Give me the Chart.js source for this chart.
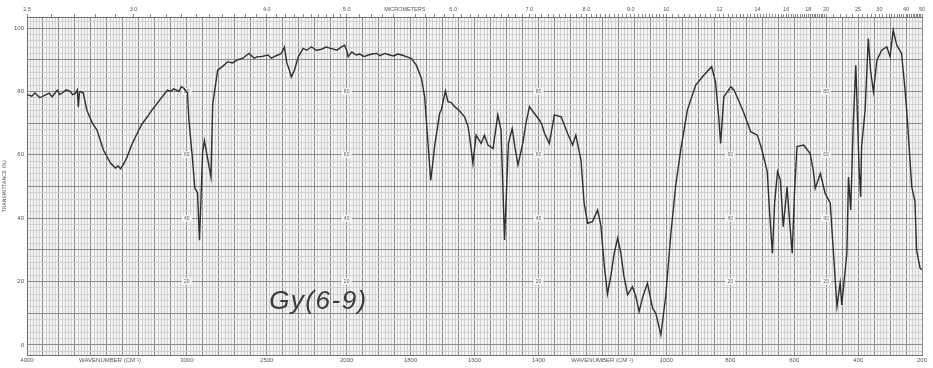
<!DOCTYPE html>
<html>
<head>
<meta charset="utf-8">
<script src="https://cdn.jsdelivr.net/npm/chart.js@4/dist/chart.umd.min.js"></script>
<style>
  html, body { margin: 0; padding: 0; background: #ffffff; }
  #wrap { width: 933px; height: 368px; }
</style>
</head>
<body>
<div id="wrap"><canvas id="ir" width="933" height="368"></canvas></div>
<script>
// IR spectrum of sample Gy(6-9): wavenumber (cm-1) vs transmittance (%)
const wavenumbers = [
  4000, 3970, 3950, 3920, 3887, 3860, 3843, 3825, 3811, 3795, 3780, 3755, 3730, 3715, 3698, 3685,
  3679, 3672, 3667, 3648, 3625, 3591, 3562, 3522, 3478, 3447, 3430, 3415, 3396, 3373, 3346, 3310,
  3283, 3247, 3220, 3184, 3151, 3121, 3100, 3082, 3050, 3035, 3019, 2996, 2987, 2964, 2950, 2933,
  2921, 2912, 2901, 2890, 2874, 2849, 2838, 2807, 2774, 2744, 2715, 2681, 2648, 2625, 2610, 2579,
  2555, 2535, 2493, 2470, 2453, 2430, 2409, 2390, 2374, 2358, 2346, 2327, 2302, 2272, 2250, 2220,
  2190, 2157, 2130, 2094, 2060, 2035, 2013, 2000,
  1995, 1984, 1970, 1959, 1945, 1932, 1920, 1906, 1895, 1881, 1865, 1853, 1840, 1828, 1813, 1797,
  1782, 1766, 1756, 1747, 1737, 1732, 1725, 1709, 1704, 1691, 1683, 1673, 1662, 1648, 1631, 1620,
  1613, 1605, 1595, 1579, 1569, 1558, 1542, 1527, 1517, 1506, 1494, 1482, 1473, 1464, 1449, 1439,
  1428, 1413, 1397, 1389, 1381, 1366, 1350, 1329, 1309, 1293, 1283, 1267, 1257, 1246, 1231, 1215,
  1205, 1194, 1184, 1173, 1163, 1152, 1142, 1133, 1121, 1106, 1095, 1085, 1074, 1059, 1043, 1033,
  1017, 1002, 986, 971, 955, 934, 908, 882, 858, 846, 836, 830, 820, 798, 788, 773,
  757, 736, 715, 702, 684, 677, 668, 661, 652, 643, 634, 622, 615, 606, 599, 591,
  570, 550, 540, 534, 518, 503, 487, 477, 466, 456, 451, 435, 430, 423, 415, 407,
  397, 392, 389, 378, 368, 361, 352, 341, 326, 310, 300, 290, 279, 264, 254, 248,
  232, 222, 217, 206, 201
];
const transmittance = [
  79, 78.5, 79.5, 78, 78.8, 79.5, 78.3, 79.5, 80.4, 79, 79.5, 80.5, 80, 79, 79.4, 80.5,
  75, 79.5, 80, 79.5, 74, 70, 67.8, 61.5, 57.4, 55.8, 56.5, 55.6, 57, 59.4, 63, 66.9,
  69.5, 72, 74, 76.3, 78.5, 80.4, 80, 80.8, 80, 81.5, 81, 79.5, 71, 58.4, 49.5, 48,
  33, 45, 61, 64.5, 60, 53, 76, 86.7, 88, 89.4, 89, 90, 90.5, 91.5, 92, 90.5,
  91, 91, 91.5, 90.5, 91, 91.5, 92, 94, 89, 86.7, 84.6, 86.7, 91, 93.6, 93, 94.1,
  93, 93.3, 94, 93.5, 93, 94, 94.6, 93,
  91, 92.5, 91.5, 91.8, 91, 91.5, 91.8, 92, 91.3, 92, 91.5, 91.2, 91.8, 91.5, 91, 90.4,
  88.3, 84.1, 78.3, 65.7, 52, 56, 62.6, 73.1, 74.1, 80.2, 76.8, 76.5, 75.2, 74, 72, 68.9,
  64, 57.3, 66.2, 63.6, 66.2, 63.1, 62, 72.6, 67.8, 33.1, 63.6, 68.3, 62, 56.8, 63.6, 70,
  75.2, 73.1, 71, 69.5, 66.8, 63.6, 72.6, 72, 66.8, 63.1, 66.2, 58.4, 44.7, 38.4, 38.9, 42.6,
  38, 25, 16, 22, 28.9, 33.7, 28.9, 22, 15.8, 18.4, 15.2, 10.5, 15, 19.5, 11.6, 10,
  3.2, 15.2, 34.7, 49.9, 61.5, 74.1, 82, 85.2, 87.8, 83, 72, 63.6, 78.3, 81.5, 80.4, 77,
  73.1, 67.3, 66.2, 62, 54.7, 42, 28.9, 45, 54.7, 52, 37.3, 49.9, 40, 28.9, 48, 62.6,
  63.1, 60.4, 55, 49.4, 54.1, 47.8, 44.7, 28.9, 12.1, 19.5, 12.6, 28.9, 53, 42.6, 70, 88.3,
  56.2, 46.8, 62.6, 74.1, 96.7, 86.7, 79.9, 89.9, 93, 94.1, 91, 99.4, 94.6, 92, 81.5, 74.1,
  49.9, 45.2, 30, 24.2, 23.7
];

// axis labelling
const transmittanceLabels = [0, 20, 40, 60, 80, 100];
const wavenumberLabels = [4000, 3000, 2500, 2000, 1800, 1600, 1400, 1000, 800, 600, 400, 200];
const wavenumberTitleAt = [3480, 1200];
const micrometerLabels = [2.5, 3, 4, 5, 6, 7, 8, 9, 10, 12, 14, 16, 18, 20, 25, 30, 40, 50];
const micrometerTitleAt = 5.5;
const paperLabelColumns = [3000, 2000, 1400, 800, 500];
const paperLabelValues = [80, 60, 40, 20];
const sampleName = 'Gy(6-9)';

// chart paper: 4000-2000 cm-1 at half the scale of 2000-200 cm-1
const HI = 4000, SPLIT = 2000, LO = 200;
const UNITS = (HI - SPLIT) / 2 + (SPLIT - LO);
function waveToFrac(w) {
  const u = w >= SPLIT ? (HI - w) / 2 : (HI - SPLIT) / 2 + (SPLIT - w);
  return u / UNITS;
}
function fracToWave(f) {
  const u = f * UNITS;
  const half = (HI - SPLIT) / 2;
  return u <= half ? HI - 2 * u : SPLIT - (u - half);
}
class WavenumberScale extends Chart.LinearScale {
  getPixelForValue(v) { return this.getPixelForDecimal(waveToFrac(v)); }
  getValueForPixel(p) { return fracToWave(this.getDecimalForPixel(p)); }
}
WavenumberScale.id = 'wavenumber';
WavenumberScale.defaults = { ticks: { callback: (v) => String(v) } };
Chart.register(WavenumberScale);

// grid rulings of the paper
const xRulings = [];
for (let w = HI; w >= SPLIT; w -= 20) xRulings.push(w);
for (let w = SPLIT - 10; w >= LO; w -= 10) xRulings.push(w);
const yRulings = [];
for (let v = -2; v <= 102; v += 2) yRulings.push(v);
const umMarks = [];
for (let m = 25; m <= 100; m += 1) if (m !== 55) umMarks.push(m / 10);
for (let m = 102; m <= 200; m += 2) umMarks.push(m / 10);
for (let m = 21; m <= 50; m += 1) umMarks.push(m);

const majorX = (w) => (w >= SPLIT ? w % 100 === 0 : w % 50 === 0);
const INK = '#555555';
const TICK_FONT = { family: 'Liberation Sans', size: 6 };

const paperLabels = {
  id: 'paperLabels',
  beforeDatasetsDraw(chart) {
    const { ctx, scales: { x, y } } = chart;
    ctx.save();
    ctx.font = '5px "Liberation Sans"';
    ctx.textAlign = 'center';
    ctx.textBaseline = 'middle';
    for (const col of paperLabelColumns) {
      for (const v of paperLabelValues) {
        const px = x.getPixelForValue(col), py = y.getPixelForValue(v);
        ctx.fillStyle = '#f4f4f4';
        ctx.fillRect(px - 5, py - 3.5, 10, 7);
        ctx.fillStyle = '#666666';
        ctx.fillText(String(v), px, py);
      }
    }
    // sample name
    ctx.font = 'italic 26px "Liberation Sans"';
    ctx.letterSpacing = '1.5px';
    ctx.fillStyle = '#3a3a3a';
    ctx.textAlign = 'left';
    ctx.textBaseline = 'alphabetic';
    ctx.fillText(sampleName, x.getPixelForValue(2485), y.getPixelForValue(11.4));
    ctx.restore();
  }
};

const paperBackground = {
  id: 'paperBackground',
  beforeDraw(chart) {
    const { ctx, chartArea: a } = chart;
    ctx.save();
    ctx.fillStyle = '#f4f4f4';
    ctx.fillRect(a.left, a.top, a.right - a.left, a.bottom - a.top);
    ctx.restore();
  }
};

new Chart(document.getElementById('ir'), {
  type: 'line',
  data: {
    datasets: [{
      data: wavenumbers.map((w, i) => ({ x: w, y: transmittance[i] })),
      borderColor: '#2e2e2e',
      borderWidth: 1.4,
      pointRadius: 0,
      tension: 0,
      fill: false
    }]
  },
  options: {
    responsive: false,
    animation: false,
    devicePixelRatio: 1,
    layout: { padding: { left: 0, right: 11, top: 0, bottom: 0 } },
    plugins: { legend: { display: false }, tooltip: { enabled: false } },
    events: [],
    scales: {
      x: {
        type: 'wavenumber',
        position: 'bottom',
        min: LO, max: HI,
        afterBuildTicks: (s) => { s.ticks = xRulings.map((v) => ({ value: v })); },
        afterFit: (s) => { s.height = 13; },
        grid: {
          drawTicks: false,
          color: (c) => (majorX(c.tick.value) ? '#8a8a8a' : '#d0d0d0'),
          lineWidth: 1
        },
        border: { color: '#6e6e6e' },
        ticks: {
          autoSkip: false, maxRotation: 0, minRotation: 0, padding: 2,
          color: INK, font: TICK_FONT,
          callback: (v) => {
            if (wavenumberLabels.includes(v)) return String(v);
            if (wavenumberTitleAt.includes(v)) return 'WAVENUMBER (CM\u207B\u00B9)';
            return '';
          }
        }
      },
      xTop: {
        type: 'wavenumber',
        position: 'top',
        min: LO, max: HI,
        afterBuildTicks: (s) => {
          s.ticks = umMarks.concat([micrometerTitleAt]).map((m) => ({ value: 10000 / m, um: m }));
        },
        afterFit: (s) => { s.height = 17; },
        grid: {
          drawOnChartArea: false, tickLength: 3,
          color: (c) => (c.tick && c.tick.um === micrometerTitleAt ? 'rgba(0,0,0,0)' : '#8a8a8a')
        },
        border: { color: '#6e6e6e' },
        ticks: {
          autoSkip: false, maxRotation: 0, minRotation: 0, padding: 1,
          color: INK, font: { family: 'Liberation Sans', size: 5.5 },
          callback: (v, i, ticks) => {
            const m = ticks[i].um;
            if (m === micrometerTitleAt) return 'MICROMETERS';
            if (micrometerLabels.includes(m)) return m < 10 ? m.toFixed(1) : String(m);
            return '';
          }
        }
      },
      y: {
        type: 'linear',
        position: 'left',
        min: -3.2, max: 103.5,
        afterBuildTicks: (s) => { s.ticks = yRulings.map((v) => ({ value: v })); },
        afterFit: (s) => { s.width = 27; },
        grid: {
          drawTicks: false,
          color: (c) => (c.tick.value % 10 === 0 ? '#8a8a8a' : '#d0d0d0'),
          lineWidth: 1
        },
        border: { color: '#6e6e6e' },
        title: {
          display: true, text: 'TRANSMITTANCE (%)', color: INK,
          font: { family: 'DejaVu Sans', size: 5 }, padding: { top: 2, bottom: 0 }
        },
        ticks: {
          autoSkip: false, padding: 3, color: INK, font: TICK_FONT,
          callback: (v) => (transmittanceLabels.includes(v) ? String(v) : '')
        }
      }
    }
  },
  plugins: [paperBackground, paperLabels]
});
</script>
</body>
</html>
